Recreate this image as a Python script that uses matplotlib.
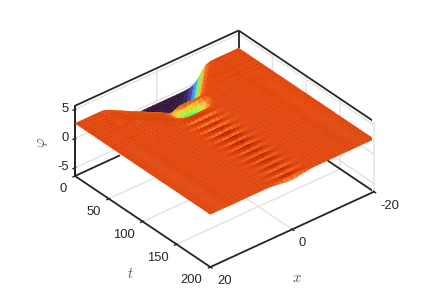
import numpy as np
import matplotlib
matplotlib.use('Agg')
import matplotlib.pyplot as plt
from mpl_toolkits.mplot3d import proj3d

plt.rcParams['font.family'] = ['Liberation Sans', 'DejaVu Sans']
plt.rcParams['axes.unicode_minus'] = False
plt.rcParams['mathtext.fontset'] = 'cm'

# values
flat_level = 2.6
x_outer = [-20, 20]
x_walls = list(range(-14, 15))
x_breather = list(range(-6, 7))
t_walls = [0, 5, 10, 15, 20, 25, 30, 35, 40, 42, 45, 47, 50, 55]
t_breather = [60 + 2.5 * i for i in range(57)]
x_ticks = [-20, 0, 20]
t_ticks = [0, 50, 100, 150, 200]
z_ticks = [-5, 0, 5]

# phi for t_walls, columns are x = -14 ... 14
phi_walls = [
    [2.6, 2.55, 2.3, 1.6, .55, -.15, -.38, -.47, -.5, -.5, -.5, -.5, -.5, -.5, -.5, -.5, -.5, -.5, -.5, -.5, -.5, -.47, -.38, -.15, .55, 1.6, 2.3, 2.55, 2.6],
    [2.6, 2.6, 2.55, 2.3, 1.6, .55, -.15, -.38, -.47, -.5, -.5, -.5, -.5, -.5, -.5, -.5, -.5, -.5, -.5, -.5, -.47, -.38, -.15, .55, 1.6, 2.3, 2.55, 2.6, 2.6],
    [2.6, 2.6, 2.6, 2.55, 2.3, 1.6, .55, -.15, -.38, -.47, -.5, -.5, -.5, -.5, -.5, -.5, -.5, -.5, -.5, -.47, -.38, -.15, .55, 1.6, 2.3, 2.55, 2.6, 2.6, 2.6],
    [2.6, 2.6, 2.6, 2.6, 2.55, 2.3, 1.6, .55, -.15, -.38, -.47, -.5, -.5, -.5, -.5, -.5, -.5, -.5, -.47, -.38, -.15, .55, 1.6, 2.3, 2.55, 2.6, 2.6, 2.6, 2.6],
    [2.6, 2.6, 2.6, 2.6, 2.6, 2.55, 2.3, 1.6, .55, -.15, -.38, -.47, -.5, -.5, -.5, -.5, -.5, -.47, -.38, -.15, .55, 1.6, 2.3, 2.55, 2.6, 2.6, 2.6, 2.6, 2.6],
    [2.6, 2.6, 2.6, 2.6, 2.6, 2.6, 2.55, 2.3, 1.6, .55, -.15, -.38, -.47, -.5, -.5, -.5, -.47, -.38, -.15, .55, 1.6, 2.3, 2.55, 2.6, 2.6, 2.6, 2.6, 2.6, 2.6],
    [2.6, 2.6, 2.6, 2.6, 2.6, 2.6, 2.6, 2.55, 2.3, 1.6, .55, -.15, -.38, -.47, -.5, -.47, -.38, -.15, .55, 1.6, 2.3, 2.55, 2.6, 2.6, 2.6, 2.6, 2.6, 2.6, 2.6],
    [2.6, 2.6, 2.6, 2.6, 2.6, 2.6, 2.6, 2.6, 2.55, 2.3, 1.6, .55, -.15, -.38, -.45, -.38, -.15, .55, 1.6, 2.3, 2.55, 2.6, 2.6, 2.6, 2.6, 2.6, 2.6, 2.6, 2.6],
    [2.6, 2.6, 2.6, 2.6, 2.6, 2.6, 2.6, 2.6, 2.6, 2.6, 2.6, 2.6, 2.6, 2.6, 2.6, 2.6, 2.3, 2.0, 2.3, 2.6, 2.6, 2.6, 2.6, 2.6, 2.6, 2.6, 2.6, 2.6, 2.6],
    [2.6, 2.6, 2.6, 2.6, 2.6, 2.6, 2.6, 2.6, 2.6, 2.6, 2.55, 2.4, 2.3, 2.2, 2.15, 2.15, 2.1, 2.0, 2.4, 2.6, 2.6, 2.6, 2.6, 2.6, 2.6, 2.6, 2.6, 2.6, 2.6],
    [2.6, 2.6, 2.6, 2.6, 2.6, 2.6, 2.6, 2.6, 2.6, 2.6, 2.3, 1.9, 1.5, 1.3, 1.2, 1.2, 1.4, 1.8, 2.4, 2.6, 2.6, 2.6, 2.6, 2.6, 2.6, 2.6, 2.6, 2.6, 2.6],
    [2.6, 2.6, 2.6, 2.6, 2.6, 2.6, 2.6, 2.6, 2.6, 2.6, 2.2, 1.7, 1.25, 1.05, 1.0, 1.05, 1.3, 1.75, 2.3, 2.6, 2.6, 2.6, 2.6, 2.6, 2.6, 2.6, 2.6, 2.6, 2.6],
    [2.6, 2.6, 2.6, 2.6, 2.6, 2.6, 2.6, 2.6, 2.6, 2.6, 2.1, 1.5, 1.1, .9, .85, .9, 1.2, 1.7, 2.3, 2.6, 2.6, 2.6, 2.6, 2.6, 2.6, 2.6, 2.6, 2.6, 2.6],
    [2.6, 2.6, 2.6, 2.6, 2.6, 2.6, 2.6, 2.6, 2.6, 2.6, 2.4, 2.0, 1.7, 1.5, 1.45, 1.5, 1.8, 2.2, 2.5, 2.6, 2.6, 2.6, 2.6, 2.6, 2.6, 2.6, 2.6, 2.6, 2.6],
]

mid = [2.6, 2.6, 2.6, 2.6, 2.6, 2.6, 2.6, 2.6, 2.6, 2.6, 2.6, 2.6, 2.6]
# phi for t_breather, columns are x = -6 ... 6
phi_breather = [
    mid, mid,
    [2.6, 2.61, 2.63, 2.67, 2.72, 2.77, 2.8, 2.8, 2.76, 2.71, 2.66, 2.62, 2.6], mid,
    [2.6, 2.57, 2.5, 2.36, 2.18, 2.0, 1.9, 1.9, 2.04, 2.22, 2.39, 2.53, 2.6], mid,
    [2.6, 2.61, 2.64, 2.69, 2.75, 2.81, 2.85, 2.85, 2.8, 2.74, 2.68, 2.63, 2.6], mid,
    [2.6, 2.57, 2.51, 2.39, 2.24, 2.09, 2.0, 2.0, 2.12, 2.27, 2.42, 2.54, 2.6], mid,
    [2.6, 2.62, 2.65, 2.71, 2.78, 2.86, 2.9, 2.9, 2.84, 2.77, 2.69, 2.63, 2.6], mid,
    [2.6, 2.57, 2.52, 2.41, 2.27, 2.13, 2.05, 2.05, 2.16, 2.3, 2.44, 2.55, 2.6], mid,
    [2.6, 2.62, 2.65, 2.72, 2.81, 2.9, 2.95, 2.95, 2.88, 2.79, 2.71, 2.64, 2.6], mid,
    [2.6, 2.58, 2.53, 2.43, 2.3, 2.18, 2.1, 2.1, 2.2, 2.33, 2.45, 2.55, 2.6], mid,
    [2.6, 2.62, 2.66, 2.74, 2.84, 2.94, 3.0, 3.0, 2.92, 2.82, 2.72, 2.64, 2.6], mid,
    [2.6, 2.58, 2.53, 2.44, 2.33, 2.22, 2.15, 2.15, 2.24, 2.35, 2.47, 2.56, 2.6], mid,
    [2.6, 2.62, 2.66, 2.74, 2.84, 2.94, 3.0, 3.0, 2.92, 2.82, 2.72, 2.64, 2.6], mid,
    [2.6, 2.58, 2.54, 2.46, 2.36, 2.26, 2.2, 2.2, 2.28, 2.38, 2.48, 2.56, 2.6], mid,
    [2.6, 2.62, 2.66, 2.74, 2.84, 2.94, 3.0, 3.0, 2.92, 2.82, 2.72, 2.64, 2.6], mid,
    [2.6, 2.58, 2.55, 2.48, 2.39, 2.3, 2.25, 2.25, 2.32, 2.41, 2.5, 2.57, 2.6], mid,
    [2.6, 2.62, 2.66, 2.74, 2.84, 2.94, 3.0, 3.0, 2.92, 2.82, 2.72, 2.64, 2.6], mid,
    [2.6, 2.59, 2.56, 2.5, 2.42, 2.35, 2.3, 2.3, 2.36, 2.44, 2.51, 2.57, 2.6], mid,
    [2.6, 2.62, 2.65, 2.72, 2.81, 2.9, 2.95, 2.95, 2.88, 2.79, 2.71, 2.64, 2.6], mid,
    [2.6, 2.59, 2.56, 2.5, 2.42, 2.35, 2.3, 2.3, 2.36, 2.44, 2.51, 2.57, 2.6], mid,
    [2.6, 2.62, 2.65, 2.72, 2.81, 2.9, 2.95, 2.95, 2.88, 2.79, 2.71, 2.64, 2.6], mid,
    [2.6, 2.59, 2.56, 2.51, 2.45, 2.39, 2.35, 2.35, 2.4, 2.46, 2.53, 2.58, 2.6], mid,
    [2.6, 2.62, 2.65, 2.72, 2.81, 2.9, 2.95, 2.95, 2.88, 2.79, 2.71, 2.64, 2.6], mid,
    [2.6, 2.59, 2.56, 2.51, 2.45, 2.39, 2.35, 2.35, 2.4, 2.46, 2.53, 2.58, 2.6], mid,
    [2.6, 2.62, 2.65, 2.71, 2.78, 2.86, 2.9, 2.9, 2.84, 2.77, 2.69, 2.63, 2.6], mid,
    [2.6, 2.59, 2.55, 2.48, 2.39, 2.3, 2.25, 2.25, 2.32, 2.41, 2.5, 2.57, 2.6], mid,
    [2.6, 2.62, 2.65, 2.71, 2.78, 2.86, 2.9, 2.9, 2.84, 2.77, 2.69, 2.63, 2.6], mid,
    [2.6, 2.59, 2.55, 2.48, 2.39, 2.3, 2.25, 2.25, 2.32, 2.41, 2.5, 2.57, 2.6], mid,
    [2.6, 2.62, 2.65, 2.71, 2.78, 2.86, 2.9, 2.9, 2.84, 2.77, 2.69, 2.63, 2.6], mid,
    [2.6, 2.58, 2.53, 2.43, 2.3, 2.18, 2.1, 2.1, 2.2, 2.33, 2.45, 2.55, 2.6],
]

# put the tables on one grid
x = np.array(sorted(x_outer + x_walls))
t = np.array(t_walls + t_breather)
phi = np.full((len(t), len(x)), flat_level)
i0 = list(x).index(x_walls[0])
phi[:len(t_walls), i0:i0 + len(x_walls)] = phi_walls
i1 = list(x).index(x_breather[0])
phi[len(t_walls):, i1:i1 + len(x_breather)] = phi_breather
X, T = np.meshgrid(x, t)

# cut each mesh cell in two triangles, along the direction the walls move
nr, nc = phi.shape
tris = []
row_of_tri = []
for r in range(nr - 1):
    for c in range(nc - 1):
        a = r * nc + c
        b = a + 1
        d = a + nc
        e = d + 1
        if x[c] < 0:
            tris += [[a, b, e], [a, e, d]]
        else:
            tris += [[a, b, d], [b, e, d]]
        row_of_tri += [r, r]
tris = np.array(tris)
row_of_tri = np.array(row_of_tri)

cell = phi.ravel()[tris].mean(axis=1)
colors = plt.get_cmap('turbo')((cell + 0.5) / 3.72)
colors[row_of_tri % 2 == 0, :3] *= 0.985

zlo, zhi = -6.4, 5.6
dark = '#262626'

fig = plt.figure(figsize=(4.36, 3.08), dpi=100)
ax = fig.add_axes([0, 0, 1, 1], projection='3d', proj_type='ortho', computed_zorder=False)
ax.view_init(elev=33.8, azim=50.4)
ax.set_box_aspect((211.7, 211.7, 84.2))
ax.set_xlim(-20, 20, view_margin=0)
ax.set_ylim(0, 200, view_margin=0)
ax.set_zlim(zlo, zhi, view_margin=0)
ax.patch.set_alpha(0)

ax.set_xticks(x_ticks)
ax.set_yticks(t_ticks)
ax.set_zticks(z_ticks)
ax.tick_params(labelsize=9.4, colors=dark)
ax.tick_params(axis='x', pad=-2.5)
ax.tick_params(axis='y', pad=-2.3)
ax.tick_params(axis='z', pad=-5.5)
for lab in ax.get_xticklabels():
    lab.set_ha('left')
for lab in ax.get_yticklabels():
    lab.set_ha('right')
for lab in ax.get_zticklabels():
    lab.set_ha('right')
    lab.set_va('center')

for axis in [ax.xaxis, ax.yaxis, ax.zaxis]:
    axis.set_pane_color((1, 1, 1, 1))
    axis.pane.set_edgecolor('white')
    axis.line.set_color(dark)
    axis.line.set_linewidth(1.3)
    axis._axinfo['grid']['color'] = '#e2e2e2'
    axis._axinfo['grid']['linewidth'] = 1.0
    axis._axinfo['tick']['inward_factor'] = 0.15
    axis._axinfo['tick']['outward_factor'] = 0.05
    axis._axinfo['tick']['linewidth'] = {True: 1.0, False: 0.5}
    axis._axinfo['tick']['color'] = dark

ax.zaxis.set_ticks_position('lower')
ax.zaxis.set_label_position('lower')

# rest of the box, only the parts the surface does not cover
box = [
    ([20, -20], [0, 0], [zhi, zhi]),
    ([-20, -20], [0, 200], [zhi, zhi]),
    ([-20, -20], [0, 0], [flat_level, zhi]),
    ([-20, -20], [200, 200], [zlo, zhi]),
    ([20, 20], [0, 0], [zlo, zhi]),
    ([20, 9], [0, 0], [zlo, zlo]),
    ([-20, -20], [131, 200], [zlo, zlo]),
]
for bx, bt, bz in box:
    ax.plot(bx, bt, bz, color=dark, lw=1.3, zorder=1, solid_capstyle='butt')

surf = ax.plot_trisurf(X.ravel(), T.ravel(), phi.ravel(), triangles=tris, color='#e0460a',
                       shade=False, linewidth=0.25, antialiased=True, zorder=5)
surf.set_facecolor(colors)
surf.set_edgecolor(colors)


def to_px(px, pt, pz):
    a, b, _ = proj3d.proj_transform(px, pt, pz, ax.get_proj())
    return ax.transData.transform((a, b))


# place the box on the figure: left corner (75,176), right corner (374,192) in image pixels
fig.canvas.draw()
p_left = to_px(20, 0, zlo)
p_right = to_px(-20, 200, zlo)
scale = 299 / (p_right[0] - p_left[0])
ax.set_position([0.5 - 0.5 * scale, 0.5 - 0.5 * scale, scale, scale])
fig.canvas.draw()
p_left = to_px(20, 0, zlo)
dx = (75 - p_left[0]) / 436
dy = ((308 - 176) - p_left[1]) / 308
pos = ax.get_position()
ax.set_position([pos.x0 + dx, pos.y0 + dy, pos.width, pos.height])

# axis names, in image pixels
label_color = '#555555'
fig.text(297 / 436, 1 - 278 / 308, r'$x$', color=label_color, fontsize=10.5, ha='center', va='center')
fig.text(130 / 436, 1 - 274 / 308, r'$t$', color=label_color, fontsize=10.5, ha='center', va='center')
fig.text(43 / 436, 1 - 142 / 308, r'$\varphi$', color=label_color, fontsize=10.5, ha='center', va='center',
         rotation=90)

fig.savefig('out.png', dpi=100)
